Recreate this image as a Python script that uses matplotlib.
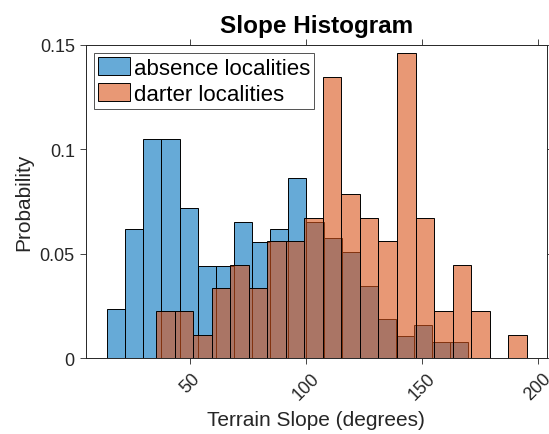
import numpy as np
import matplotlib
matplotlib.use("Agg")
import matplotlib.pyplot as plt

plt.rcParams["font.family"] = ["Liberation Sans", "DejaVu Sans"]

# bin edges (degrees) and probabilities
absence_start, absence_width = 14.3, 7.79
absence_prob = [0.0236, 0.0619, 0.105, 0.105, 0.0718, 0.0443, 0.0443, 0.0652,
                0.0555, 0.0617, 0.0862, 0.0654, 0.0574, 0.051, 0.0345, 0.0187,
                0.0108, 0.0158, 0.0077, 0.0077]

darter_start, darter_width = 35.3, 8.0
darter_prob = [0.0225, 0.0225, 0.0112, 0.0337, 0.0449, 0.0337, 0.0562, 0.0562,
               0.0674, 0.1348, 0.0787, 0.0674, 0.0562, 0.1461, 0.0674, 0.0225,
               0.0449, 0.0225, 0.0, 0.0112]

xticks = [50, 100, 150, 200]
yticks = [0, 0.05, 0.1, 0.15]
ytick_labels = ["0", "0.05", "0.1", "0.15"]

blue = (0.0, 0.447, 0.741, 0.6)
orange = (0.85, 0.325, 0.098, 0.6)
axcol = "#262626"

fig = plt.figure(figsize=(5.49, 4.35), dpi=100)
ax = fig.add_axes([0.1566, 0.174, 0.8392, 0.7203])

a_left = absence_start + absence_width * np.arange(len(absence_prob))
d_left = darter_start + darter_width * np.arange(len(darter_prob))

ax.bar(a_left, absence_prob, width=absence_width, align="edge",
       facecolor=blue, edgecolor="black", linewidth=0.7,
       label="absence localities")
ax.bar(d_left, darter_prob, width=darter_width, align="edge",
       facecolor=orange, edgecolor="black", linewidth=0.7,
       label="darter localities")

ax.set_xlim(5.1, 203.9)
ax.set_ylim(0, 0.15)
ax.set_xticks(xticks)
ax.set_xticklabels([str(t) for t in xticks], rotation=45, ha="center",
                   va="top")
ax.set_yticks(yticks)
ax.set_yticklabels(ytick_labels)

ax.tick_params(direction="out", length=4, width=0.6, colors=axcol,
               labelsize=13, top=True, right=True, labeltop=False,
               labelright=False, pad=4)
for s in ax.spines.values():
    s.set_color(axcol)
    s.set_linewidth(0.7)

ax.set_xlabel("Terrain Slope (degrees)", fontsize=15, color=axcol, labelpad=5)
ax.set_ylabel("Probability", fontsize=15, color=axcol, labelpad=5)
ax.set_title("Slope Histogram", fontsize=17.5, fontweight="bold", pad=9)

leg = ax.legend(loc="upper left", fontsize=16, frameon=True, fancybox=False,
                borderaxespad=0.35, handlelength=1.45, handleheight=0.85,
                handletextpad=0.15, borderpad=0.2, labelspacing=0.2)
leg.get_frame().set_edgecolor(axcol)
leg.get_frame().set_linewidth(0.7)

fig.savefig("out.png", dpi=100)
